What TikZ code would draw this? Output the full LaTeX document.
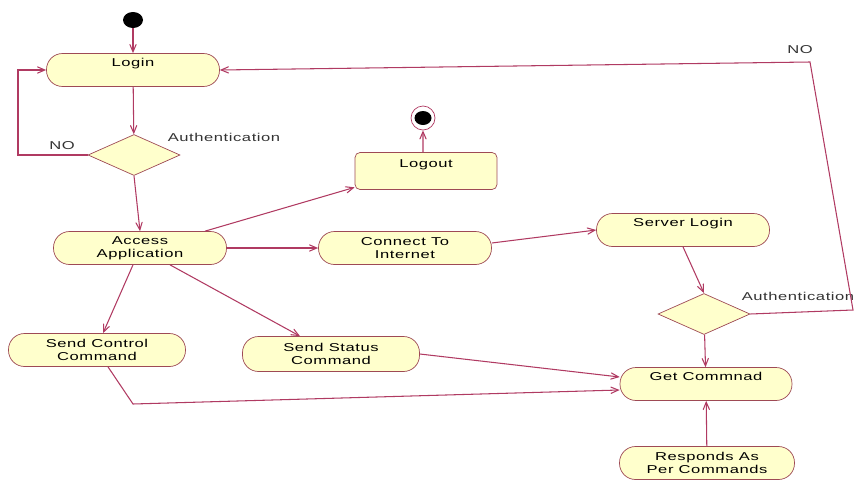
\documentclass[tikz,border=0pt]{standalone}
\usepackage{fontspec}
\setmainfont{Liberation Sans}
\newfontfamily\umlfont[FakeStretch=1.45, LetterSpace=5]{Liberation Sans}
\usepackage{tikz}
\usetikzlibrary{shapes.geometric, arrows, positioning, calc}
\definecolor{umlline}{HTML}{B03A62}
\definecolor{umledge}{HTML}{9E4A55}
\definecolor{umlfill}{HTML}{FFFFCC}

\begin{document}
\begin{tikzpicture}[
    x=0.02cm, y=-0.02cm,
    act/.style={rectangle, draw=umledge, fill=umlfill, rounded corners=0.32cm, minimum width=3.46cm, minimum height=0.66cm, inner sep=0.5pt, align=center, font=\umlfont\fontsize{6.5}{7.5}\selectfont},
    oneline/.style={text height=0.2cm, text depth=0.36cm},
    decide/.style={diamond, draw=umledge, fill=umlfill, minimum width=1.84cm, minimum height=0.82cm, aspect=2.2, inner sep=0pt},
    lbl/.style={font=\umlfont\fontsize{6.5}{7.5}\selectfont, text=black!80},
    arrow/.style={->, >=angle 45, line width=0.6pt, umlline},
    line/.style={line width=0.6pt, umlline}
]
\useasboundingbox (0,0) rectangle (858,480);

% start and end
\node[ellipse, fill=black, minimum width=0.4cm, minimum height=0.32cm, inner sep=0pt] (start) at (133,20) {};
\node[circle, draw=umlline, fill=white, minimum size=0.48cm, inner sep=0pt] (finish) at (423,118) {};
\node[ellipse, fill=black, minimum width=0.34cm, minimum height=0.28cm, inner sep=0pt] (finishdot) at (423,118) {};

% activities
\node[act, oneline] (login) at (133,70) {Login};
\node[decide] (auth1) at (134,155) {};
\node[lbl] (authtxt1) at (224,137) {Authentication};
\node[lbl] (no1) at (62,146) {NO};

\node[act] (access) at (140,248) {Access\\Application};
\node[act, oneline, rounded corners=0.1cm, minimum width=2.84cm, minimum height=0.74cm] (logout) at (426,171) {Logout};
\node[act] (connect) at (405,248) {Connect To\\Internet};
\node[act, oneline] (server) at (683,230) {Server Login};
\node[decide] (auth2) at (704,314) {};
\node[lbl] (authtxt2) at (798,296) {Authentication};
\node[lbl] (no2) at (800,50) {NO};

\node[act, minimum width=3.54cm] (sendctl) at (97,350) {Send Control\\Command};
\node[act, minimum width=3.54cm, minimum height=0.7cm] (sendstat) at (331,354) {Send Status\\Command};
\node[act, oneline, minimum width=3.44cm] (get) at (706,384) {Get Commnad};
\node[act, minimum width=3.5cm] (respond) at (707,463) {Responds As\\Per Commands};

% bends
\coordinate (noleft) at (18,155);
\coordinate (noright) at (853,310);
\coordinate (notop) at (810,62);
\coordinate (ctlbend) at (133,404);

% flows
\draw[arrow] (start) -- (login);
\draw[arrow] (login) -- (auth1);
\draw[arrow] (auth1.south) -- (access.north);
\draw[arrow] (auth1.west) -- (noleft) |- (login.west);
\draw[arrow] ([xshift=1.3cm]access.north) -- ([yshift=0.05cm]logout.south west);
\draw[arrow] ([xshift=-0.06cm]logout.north) -- (finish);
\draw[arrow] (access) -- (connect);
\draw[arrow] ([yshift=0.1cm]connect.east) -- (server.west);
\draw[arrow] (server.south) -- (auth2.north);
\draw[arrow] (auth2) -- (get);
\draw[arrow] (auth2.east) -- (noright) -- (notop) -- (login.east);
\draw[arrow] ([xshift=-0.14cm]access.south) -- ([xshift=0.12cm]sendctl.north);
\draw[arrow] ([xshift=0.6cm]access.south) -- ([xshift=-0.62cm]sendstat.north);
\draw[arrow] (sendstat.east) -- ([yshift=0.14cm]get.west);
\draw[arrow] ([xshift=0.22cm]sendctl.south) -- (ctlbend) -- ([yshift=-0.12cm]get.west);
\draw[arrow] (respond) -- (get);

\end{tikzpicture}
\end{document}
